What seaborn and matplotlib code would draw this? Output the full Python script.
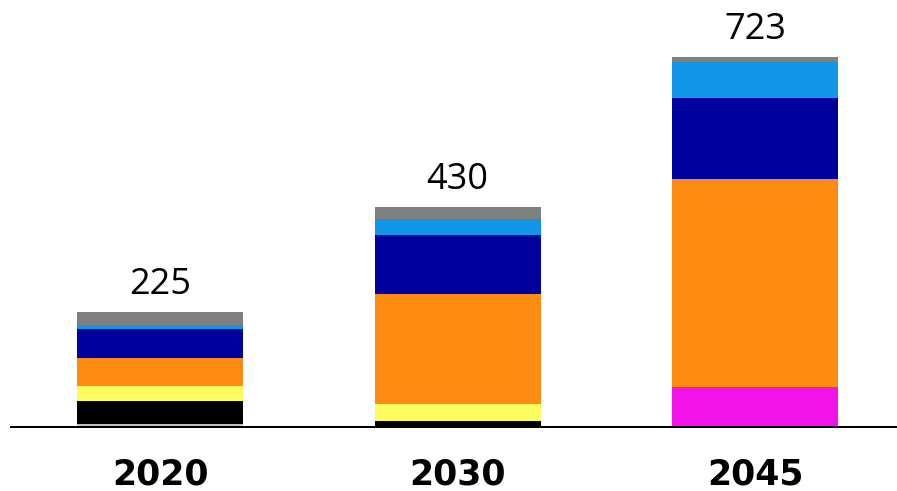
import matplotlib
matplotlib.use("Agg")
import matplotlib.pyplot as plt
import seaborn as sns
import pandas as pd
import numpy as np

categories = ["2020", "2030", "2045"]
series_names = ["magenta", "silver", "black", "yellow", "orange", "navy", "lightblue", "gray"]
magenta = [0, 0, 78]
silver = [6, 0, 0]
black = [45, 12, 0]
yellow = [29, 33, 0]
orange = [55, 215, 405]
navy = [55, 115, 160]
lightblue = [8, 31, 70]
gray = [27, 24, 10]
series_values = [magenta, silver, black, yellow, orange, navy, lightblue, gray]
colors = ["#F213EB", "#C0C0C0", "#000000", "#FDFD60", "#FF8C12", "#00009C", "#1196E8", "#808080"]

sns.set_theme(style="white")
fig = plt.figure(figsize=(8.97, 4.91), dpi=100)
ax = fig.add_axes([11 / 897, (491 - 426.7) / 491, 886 / 897, 426.7 / 491])

bottoms = np.zeros(len(categories))
for name, vals, col in zip(series_names, series_values, colors):
    df = pd.DataFrame({"year": categories, "value": vals})
    sns.barplot(data=df, x="year", y="value", order=categories, color=col,
                bottom=bottoms.copy(), width=0.558, ax=ax, linewidth=0,
                saturation=1, errorbar=None)
    bottoms += np.array(vals, dtype=float)

totals = bottoms
for i, t in enumerate(totals):
    ax.annotate(f"{int(round(t))}", xy=(i, t), xytext=(0, 12.5), textcoords="offset points",
                ha="center", va="baseline", fontsize=26, family=["Open Sans", "DejaVu Sans"],
                color="black")

ax.set_xlim(-0.5008, 2.477)
ax.set_ylim(0, 833.7)
ax.set_xlabel("")
ax.set_ylabel("")
ax.set_yticks([])
ax.set_xticks(range(len(categories)))
ax.set_xticklabels(categories, fontsize=25, fontweight="bold", family="DejaVu Sans", color="black")
ax.tick_params(axis="x", length=0, pad=22)
for s in ["top", "left", "right"]:
    ax.spines[s].set_visible(False)
ax.spines["bottom"].set_color("black")
ax.spines["bottom"].set_linewidth(1.44)
ax.set_facecolor("white")
fig.patch.set_facecolor("white")

fig.savefig("out.png", dpi=100, facecolor="white")
